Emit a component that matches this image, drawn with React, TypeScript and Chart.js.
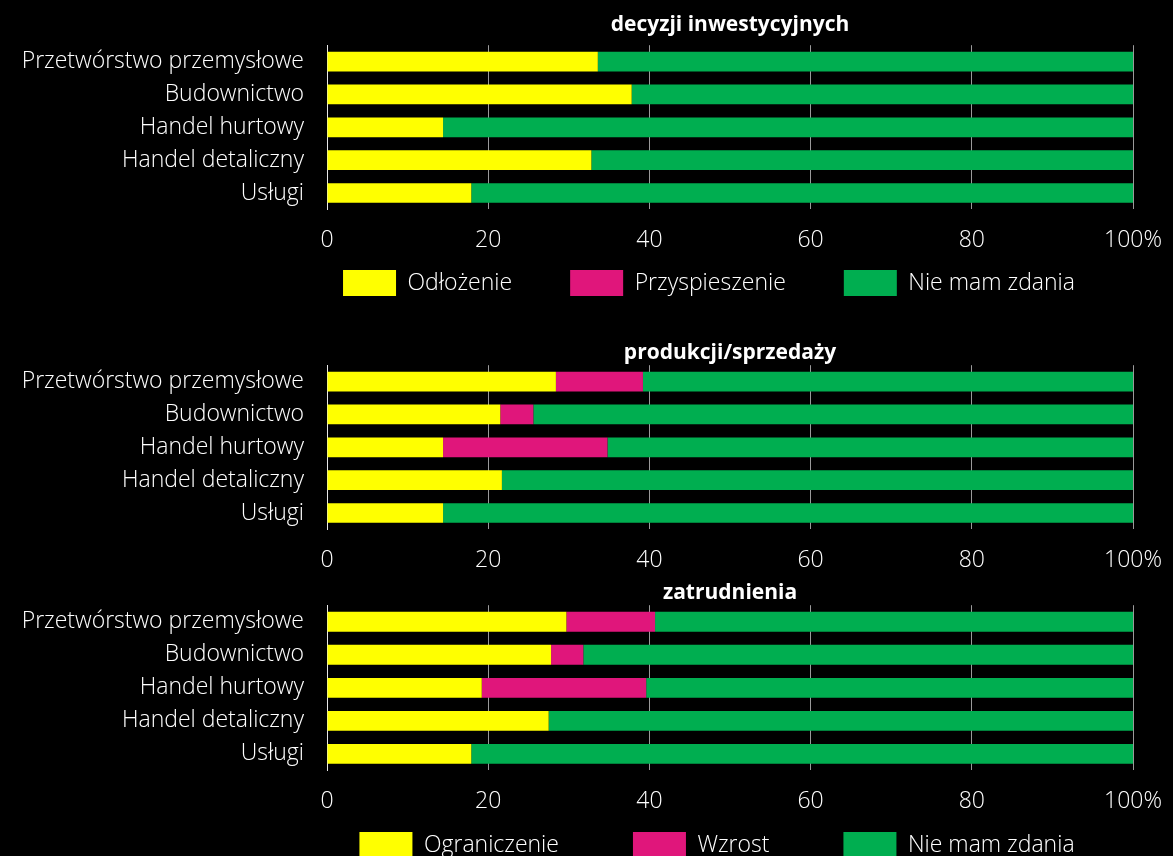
import React, { useEffect, useRef } from "react";
import { Chart, registerables } from "chart.js";

Chart.register(...registerables);

// ---------- data ----------
const categories = [
  "Przetwórstwo przemysłowe",
  "Budownictwo",
  "Handel hurtowy",
  "Handel detaliczny",
  "Usługi",
];

const xTickLabels = ["0", "20", "40", "60", "80", "100%"];

// Panel 1: decyzji inwestycyjnych
const title1 = "decyzji inwestycyjnych";
const names1 = ["Odłożenie", "Przyspieszenie", "Nie mam zdania"];
const odlozenie1 = [33.6, 37.8, 14.4, 32.8, 17.9];
const przyspieszenie1 = [0, 0, 0, 0, 0];
const nieMamZdania1 = [66.4, 62.2, 85.6, 67.2, 82.1];

// Panel 2: produkcji/sprzedaży
const title2 = "produkcji/sprzedaży";
const names2 = ["Ograniczenie", "Wzrost", "Nie mam zdania"];
const ograniczenie2 = [28.4, 21.5, 14.4, 21.7, 14.4];
const wzrost2 = [10.8, 4.1, 20.4, 0, 0];
const nieMamZdania2 = [60.8, 74.4, 65.2, 78.3, 85.6];

// Panel 3: zatrudnienia
const title3 = "zatrudnienia";
const names3 = ["Ograniczenie", "Wzrost", "Nie mam zdania"];
const ograniczenie3 = [29.7, 27.8, 19.2, 27.5, 17.9];
const wzrost3 = [11.0, 4.0, 20.4, 0, 0];
const nieMamZdania3 = [59.3, 68.2, 60.4, 72.5, 82.1];

// ---------- styles ----------
const COLORS = ["#FFFF00", "#E0167B", "#00AE50"];
const FONT = "'Open Sans', 'Noto Sans', sans-serif";
const LABEL_SIZE = 23;
const WIDTH = 1173;
const PLOT_LEFT = 327;
const PLOT_RIGHT_GAP = 40;

type PanelProps = {
  top: number;
  height: number;
  title: string;
  names: string[];
  values: number[][];
  showLegend: boolean;
  legendCenter: number;
  legendGap: number;
  legendBoxTop: number; // relative to canvas
  titlePadTop: number;
  titlePadBottom: number;
  tickPad: number;
};

function Panel(props: PanelProps) {
  const ref = useRef<HTMLCanvasElement | null>(null);
  useEffect(() => {
    const {
      title, names, values, showLegend, legendCenter, legendGap, legendBoxTop,
      titlePadTop, titlePadBottom, tickPad,
    } = props;
    const legendPos = {
      id: "legendPos",
      afterLayout(chart: any) {
        const lg = chart.legend;
        if (!lg || !showLegend) return;
        const half = 560;
        lg.left = legendCenter - half;
        lg.right = legendCenter + half;
        const h = lg.height;
        lg.top = legendBoxTop - legendGap;
        lg.bottom = lg.top + h;
      },
    };
    const chart = new Chart(ref.current as HTMLCanvasElement, {
      type: "bar",
      data: {
        labels: categories,
        datasets: names.map((n, i) => ({
          label: n,
          data: values[i],
          backgroundColor: COLORS[i],
          borderWidth: 0,
          barPercentage: 0.6,
          categoryPercentage: 1,
        })),
      },
      options: {
        indexAxis: "y",
        responsive: false,
        animation: false,
        layout: { padding: 0 },
        scales: {
          x: {
            stacked: true,
            min: 0,
            max: 100,
            ticks: {
              stepSize: 20,
              color: "#ffffff",
              padding: tickPad,
              font: { family: FONT, size: LABEL_SIZE, weight: "300" },
              callback: (_v: any, i: number) => xTickLabels[i],
            },
            grid: { color: "#9a9a9a", lineWidth: 1, drawTicks: false },
            border: { display: false },
            afterFit: (s: any) => {
              s.paddingLeft = 0;
              s.paddingRight = PLOT_RIGHT_GAP;
            },
          },
          y: {
            stacked: true,
            grid: { display: false, drawTicks: false },
            border: { display: true, color: "#e8e8e8", width: 1 },
            ticks: {
              color: "#ffffff",
              padding: 23,
              font: { family: FONT, size: LABEL_SIZE, weight: "300" },
            },
            afterFit: (s: any) => {
              s.width = PLOT_LEFT;
              s.paddingTop = 0;
              s.paddingBottom = 0;
            },
          },
        },
        plugins: {
          title: {
            display: true,
            text: title,
            color: "#ffffff",
            fullSize: false,
            font: { family: FONT, size: 21, weight: "bold", lineHeight: 1.2 },
            padding: { top: titlePadTop, bottom: titlePadBottom },
          },
          legend: {
            display: showLegend,
            position: "bottom",
            labels: {
              color: "#ffffff",
              boxWidth: 53,
              boxHeight: 26,
              padding: legendGap,
              font: { family: FONT, size: LABEL_SIZE, weight: "300" },
              generateLabels: (c: any) =>
                (Chart.defaults.plugins.legend.labels as any)
                  .generateLabels(c)
                  .map((l: any) => ({ ...l, lineWidth: 0 })),
            },
          },
          tooltip: { enabled: false },
        },
      } as any,
      plugins: [legendPos],
    });
    return () => chart.destroy();
  }, []);
  return (
    <canvas
      ref={ref}
      width={WIDTH}
      height={props.height}
      style={{ position: "absolute", left: 0, top: props.top, display: "block" }}
    />
  );
}

export default function App() {
  return (
    <div
      style={{
        position: "fixed",
        left: 0,
        top: 0,
        width: WIDTH,
        height: 856,
        overflow: "hidden",
        background: "#000000",
      }}
    >
      <Panel
        top={0}
        height={366}
        title={title1}
        names={names1}
        values={[odlozenie1, przyspieszenie1, nieMamZdania1]}
        showLegend={true}
        legendCenter={709}
        legendGap={58}
        legendBoxTop={270}
        titlePadTop={12}
        titlePadBottom={8}
        tickPad={17.5}
      />
      <Panel
        top={320}
        height={271}
        title={title2}
        names={names2}
        values={[ograniczenie2, wzrost2, nieMamZdania2]}
        showLegend={false}
        legendCenter={716}
        legendGap={50}
        legendBoxTop={0}
        titlePadTop={20}
        titlePadBottom={0}
        tickPad={17}
      />
      <Panel
        top={578}
        height={365}
        title={title3}
        names={names3}
        values={[ograniczenie3, wzrost3, nieMamZdania3]}
        showLegend={true}
        legendCenter={717}
        legendGap={74}
        legendBoxTop={832 - 578}
        titlePadTop={2}
        titlePadBottom={0}
        tickPad={17.5}
      />
    </div>
  );
}
